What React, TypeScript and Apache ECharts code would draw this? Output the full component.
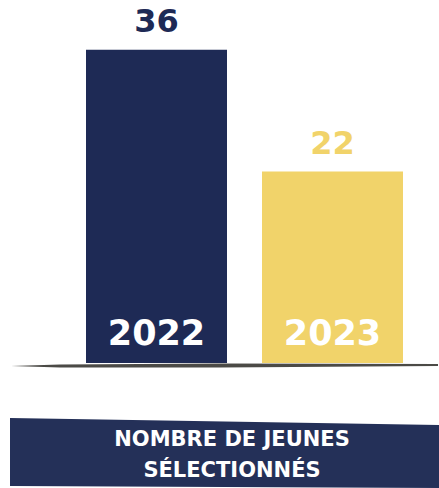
import React, { useEffect, useRef } from "react";
import * as echarts from "echarts";

const categories = ["2022", "2023"];
const values = [36, 22];
const barColors = ["#1e2a55", "#f1d36a"];
const bannerText = "NOMBRE DE JEUNES\nSÉLECTIONNÉS";

export default function App() {
  const ref = useRef<HTMLDivElement>(null);
  useEffect(() => {
    document.body.style.margin = "0";
    const chart = echarts.init(ref.current!, null, { renderer: "svg" });
    const font = "DejaVu Sans";
    chart.setOption({
      animation: false,
      backgroundColor: "#ffffff",
      grid: { left: 68.5, right: 18.5, top: 15, bottom: 125 },
      xAxis: {
        type: "category",
        data: categories,
        axisLine: { show: false },
        axisTick: { show: false },
        axisLabel: {
          inside: true,
          margin: 13,
          color: "#ffffff",
          fontFamily: font,
          fontWeight: "bold",
          fontSize: 35,
        },
        z: 10,
      },
      yAxis: {
        type: "value",
        min: 0,
        max: 40,
        show: false,
        splitLine: { show: false },
      },
      series: [
        {
          type: "bar",
          barWidth: 141,
          data: values.map((v, i) => ({
            value: v,
            itemStyle: { color: barColors[i] },
            label: { color: barColors[i] },
          })),
          label: {
            show: true,
            position: "top",
            distance: 13,
            fontFamily: font,
            fontWeight: "bold",
            fontSize: 32,
          },
        },
      ],
      graphic: [
        {
          type: "polygon",
          z: 5,
          shape: {
            points: [
              [11, 366],
              [60, 364.5],
              [220, 363.5],
              [438, 364],
              [438, 366],
              [220, 367.5],
              [60, 367.5],
            ],
          },
          style: { fill: "#4b4a46" },
        },
        {
          type: "polygon",
          shape: {
            points: [
              [10, 418],
              [439, 425],
              [439, 488],
              [10, 486],
            ],
          },
          style: { fill: "#243058" },
        },
        {
          type: "text",
          x: 232,
          y: 454,
          style: {
            text: bannerText,
            fill: "#ffffff",
            font: `bold 21px "${font}"`,
            textAlign: "center",
            textVerticalAlign: "middle",
            lineHeight: 31,
          },
        },
      ],
    });
    return () => chart.dispose();
  }, []);
  return (
    <div
      ref={ref}
      style={{ position: "fixed", left: 0, top: 0, width: 439, height: 488 }}
    />
  );
}
